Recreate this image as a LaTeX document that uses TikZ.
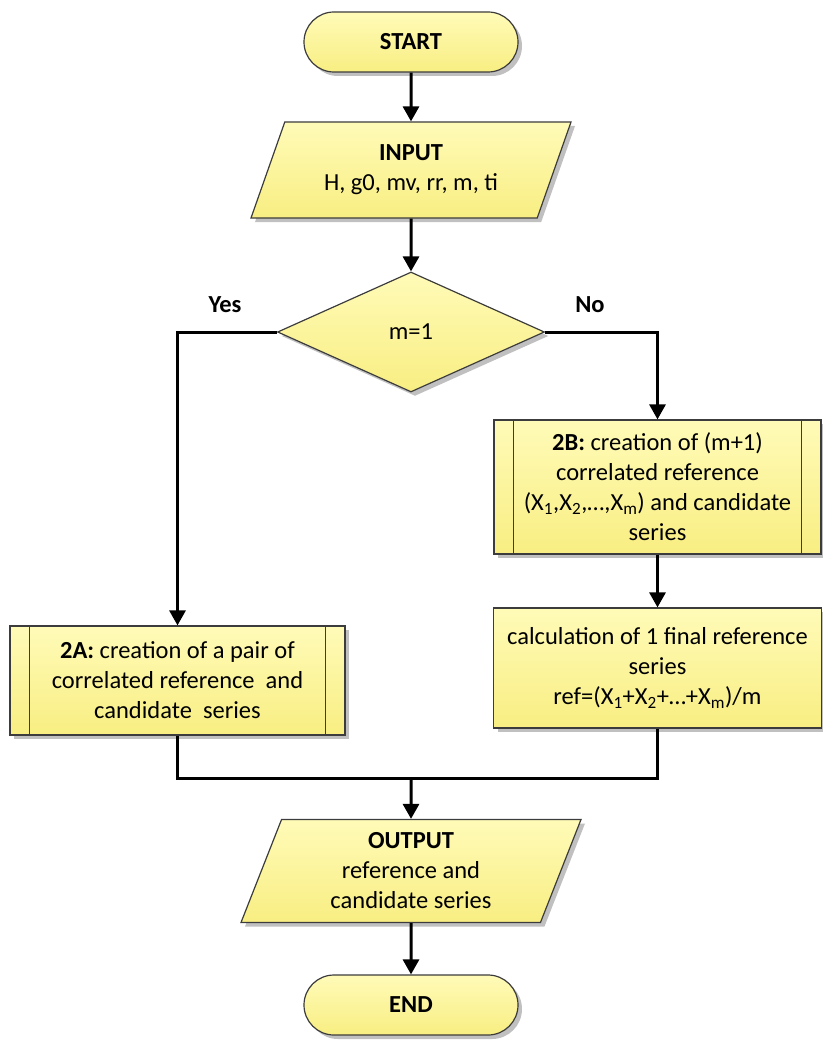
\documentclass[tikz,border=0pt]{standalone}
\usepackage{fontspec}
\setmainfont{Carlito}
\usepackage{tikz}
\usetikzlibrary{arrows.meta,calc,positioning,shapes.geometric,shapes.misc,shadows}

\definecolor{boxtop}{HTML}{FFFBB8}
\definecolor{boxbottom}{HTML}{F8EE82}
\definecolor{boxedge}{HTML}{3C3C3C}

\begin{document}
\begin{tikzpicture}[x=1pt, y=-1pt,
    every node/.style={font=\fontsize{24.5}{30}\selectfont, align=center, inner sep=0pt},
    flowbox/.style={draw=boxedge, line width=1.2pt, top color=boxtop, bottom color=boxbottom,
      drop shadow={shadow xshift=4pt, shadow yshift=-4pt, fill=black!45, opacity=0.55}},
    terminal/.style={flowbox, rounded rectangle, minimum width=214pt, minimum height=60pt},
    inout/.style={flowbox, trapezium, trapezium stretches body},
    decide/.style={flowbox, diamond, minimum width=267pt, minimum height=120pt},
    process/.style={flowbox, rectangle},
    link/.style={line width=3pt, black},
    arrow/.style={link, -{Triangle[length=15pt, width=16pt]}},
  ]
  \useasboundingbox (0,0) rectangle (822,1043);

  \node[terminal] (start) at (411,42) {\textbf{START}};
  \node[inout, minimum width=320pt, minimum height=96pt, trapezium left angle=56, trapezium right angle=124]
    (input) at (411,170) {\textbf{INPUT}\\H, g0, mv, rr, m, ti};
  \node[decide] (decision) at (411,332) {m=1};
  \node[font=\fontsize{24.5}{30}\selectfont\bfseries] (yes-label) at (225,305) {Yes};
  \node[font=\fontsize{24.5}{30}\selectfont\bfseries] (no-label) at (590,305) {No};

  \node[process, minimum width=327pt, minimum height=134pt] (step-2b) at (657.5,487)
    {\textbf{2B:} creation of (m+1)\\correlated reference\\(X\textsubscript{1},X\textsubscript{2},\textellipsis,X\textsubscript{m}) and candidate\\series};
  \node[process, minimum width=328pt, minimum height=120pt] (calc) at (657.5,668)
    {calculation of 1 final reference\\series\\ref=(X\textsubscript{1}+X\textsubscript{2}+\textellipsis+X\textsubscript{m})/m};
  \node[process, minimum width=335pt, minimum height=109pt] (step-2a) at (177.5,680.5)
    {\textbf{2A:} creation of a pair of\\correlated reference\ \ and\\candidate\ \ series};

  \node[inout, minimum width=340pt, minimum height=103pt, trapezium left angle=62, trapezium right angle=118]
    (output) at (411,871) {\textbf{OUTPUT}\\reference and\\candidate series};
  \node[terminal] (stop) at (411,1005) {\textbf{END}};

  % side bars of the predefined processes
  \foreach \p in {step-2a, step-2b} {
    \draw[boxedge, line width=1.2pt] ([xshift=20pt]\p.north west) -- ([xshift=20pt]\p.south west);
    \draw[boxedge, line width=1.2pt] ([xshift=-20pt]\p.north east) -- ([xshift=-20pt]\p.south east);
  }

  \coordinate (merge) at (411,778);

  \draw[arrow] (start) -- (input);
  \draw[arrow] (input) -- (decision);
  \draw[arrow] (decision.west) -| (step-2a.north);
  \draw[arrow] (decision.east) -| (step-2b.north);
  \draw[arrow] (step-2b) -- (calc);
  \draw[link] (step-2a.south) |- (merge);
  \draw[link] (calc.south) |- (merge);
  \draw[arrow] (merge) -- (output.north);
  \draw[arrow] (output) -- (stop);
\end{tikzpicture}
\end{document}
